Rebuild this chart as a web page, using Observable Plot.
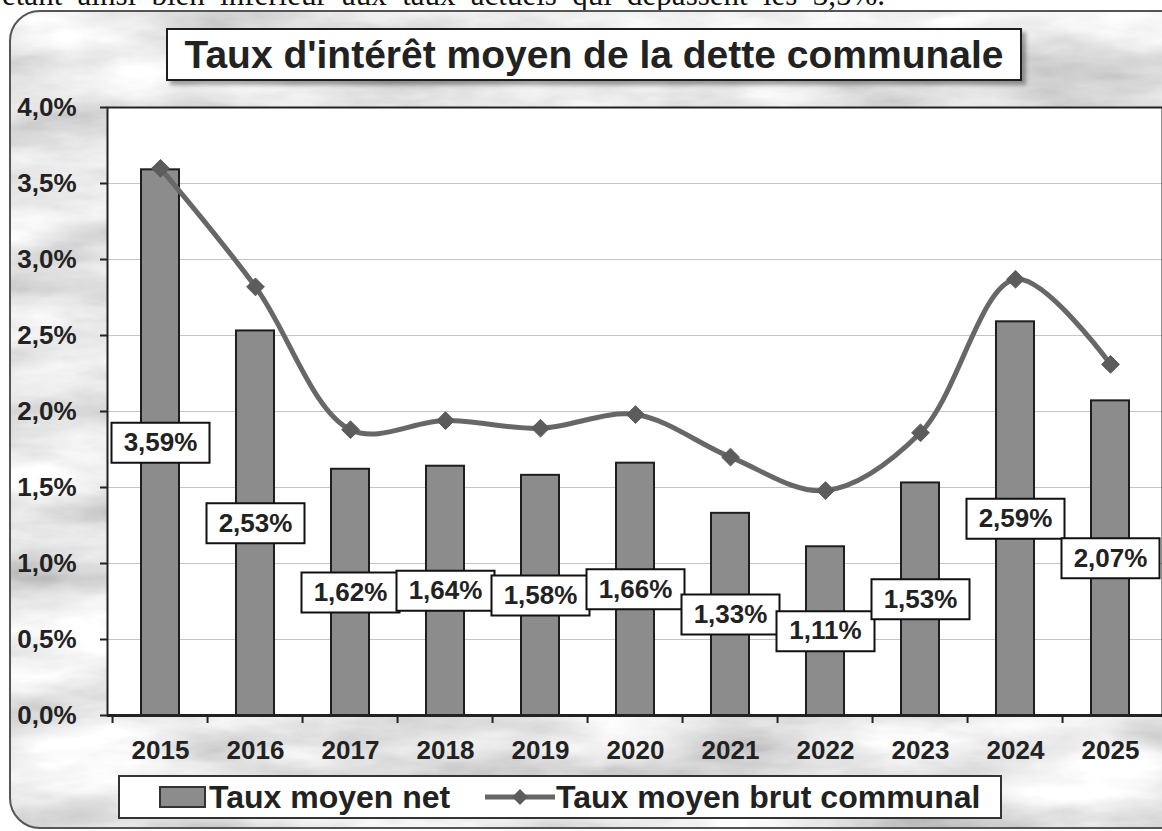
<!DOCTYPE html>
<html>
<head>
<meta charset="utf-8">
<script src="https://cdn.jsdelivr.net/npm/d3@7"></script>
<script src="https://cdn.jsdelivr.net/npm/@observablehq/plot@0.6"></script>
<style>
  html, body { margin: 0; padding: 0; background: #fff; }
  #page { position: relative; width: 1162px; height: 831px; overflow: hidden; font-family: "Liberation Sans", Arial, sans-serif; }
  #topline { position: absolute; left: 2px; width: 883px; top: -21px; font-family: "Liberation Serif", "Times New Roman", serif; font-size: 31px; line-height: 31px; white-space: nowrap; color: #111; text-align: justify; text-align-last: justify; }
  #bg { position: absolute; left: 0; top: 0; }
  #chart { position: absolute; left: 0; top: 0; }
  #title { position: absolute; left: 166px; top: 28px; width: 856px; height: 53px; box-sizing: border-box; border: 2px solid #1e1e1e; background: #fff; font-weight: bold; font-size: 39px; line-height: 49px; text-align: center; color: #222; box-shadow: 4px 4px 4px rgba(0,0,0,0.35); white-space: nowrap; }
  #legend { position: absolute; left: 118px; top: 775px; }
</style>
</head>
<body>
<div id="page">
  <div id="topline">étant ainsi bien inférieur aux taux actuels qui dépassent les 3,5%.</div>
  <svg id="bg" width="1162" height="831">
    <defs>
      <filter id="marble" x="0" y="0" width="1162" height="831" filterUnits="userSpaceOnUse">
        <feTurbulence type="fractalNoise" baseFrequency="0.006 0.02" numOctaves="5" seed="11" result="noise"/>
        <feColorMatrix in="noise" type="matrix" values="0.55 0.5 0 0 0.27  0.55 0.5 0 0 0.27  0.55 0.5 0 0 0.27  0 0 0 0 1" result="gray"/>
        <feComposite in="gray" in2="SourceGraphic" operator="in"/>
      </filter>
    </defs>
    <rect x="10" y="11" width="1180" height="817" rx="30" ry="30" fill="#d0d0d0" filter="url(#marble)"/>
    <rect x="10" y="11" width="1180" height="817" rx="30" ry="30" fill="none" stroke="#555" stroke-width="2"/>
  </svg>
  <div id="chart"></div>
  <div id="title">Taux d'intérêt moyen de la dette communale</div>
  <svg id="legend" width="884" height="44"></svg>
</div>
<script>
// ---- data ----
const years = [2015, 2016, 2017, 2018, 2019, 2020, 2021, 2022, 2023, 2024, 2025];
const netRates = [3.59, 2.53, 1.62, 1.64, 1.58, 1.66, 1.33, 1.11, 1.53, 2.59, 2.07];
const grossRates = [3.60, 2.82, 1.88, 1.94, 1.89, 1.98, 1.70, 1.48, 1.86, 2.87, 2.31];
const yTicks = [0, 0.5, 1, 1.5, 2, 2.5, 3, 3.5, 4];
const seriesNames = ["Taux moyen net", "Taux moyen brut communal"];

const table = years.map((year, i) => ({year, net: netRates[i], gross: grossRates[i]}));

const W = 1162, H = 831;
const mL = 107, mT = 107, mB = 116, mR = 0;
const step = (W - mL - mR) / years.length;

const fmtAxis = d => d.toFixed(1).replace(".", ",") + "%";
const fmtLabel = d => d.toFixed(2).replace(".", ",") + "%";

const labelBox = {
  draw(ctx) {
    ctx.moveTo(-49, -20); ctx.lineTo(49, -20); ctx.lineTo(49, 20); ctx.lineTo(-49, 20); ctx.closePath();
  }
};

const chart = Plot.plot({
  width: W, height: H,
  marginLeft: mL, marginTop: mT, marginBottom: mB, marginRight: mR,
  style: {background: "transparent", fontFamily: "'Liberation Sans', Arial, sans-serif", color: "#222", overflow: "visible"},
  x: {type: "band", domain: years, paddingInner: 0.6, paddingOuter: 0.3, axis: null, label: null},
  y: {domain: [0, 4], axis: null, label: null},
  marks: [
    Plot.frame({fill: "white", stroke: null}),
    Plot.gridY(yTicks, {stroke: "#c4c4c4", strokeOpacity: 1}),
    Plot.barY(table, {x: "year", y: "net", fill: "#8c8c8c", stroke: "#1e1e1e", strokeWidth: 2, ariaLabel: "bars"}),
    Plot.line(table, {x: "year", y: "gross", curve: "catmull-rom", stroke: "#676767", strokeWidth: 5}),
    Plot.dot(table, {x: "year", y: "gross", symbol: "diamond2", r: 8, fill: "#5c5c5c", stroke: "#5c5c5c", strokeWidth: 1}),
    Plot.dot(table, {x: "year", y: d => d.net / 2, symbol: labelBox, r: 1, fill: "white", stroke: "#111", strokeWidth: 2, ariaLabel: "labelboxes"}),
    Plot.text(table, {x: "year", y: d => d.net / 2, text: d => fmtLabel(d.net), fontSize: 26, fontWeight: "bold", fill: "#222"}),
    Plot.frame({stroke: "#222", strokeWidth: 2}),
    Plot.ruleY([0], {stroke: "#222", strokeWidth: 3}),
    Plot.axisY({ticks: yTicks, tickFormat: fmtAxis, tickSize: 7, tickPadding: 24, fontSize: 26, fontWeight: "bold", strokeWidth: 2, label: null}),
    Plot.axisX({tickSize: 8, tickFormat: () => "", dx: -step / 2, strokeWidth: 2, label: null}),
    Plot.axisX({tickSize: 0, tickPadding: 25, fontSize: 26, fontWeight: "bold", tickFormat: d => String(d), label: null})
  ]
});
document.getElementById("chart").appendChild(chart);
chart.querySelectorAll('g[aria-label="bars"], g[aria-label="labelboxes"]').forEach(g => {
  g.style.filter = "drop-shadow(4px 4px 3px rgba(0,0,0,0.4))";
});

// ---- legend ----
const lg = d3.select("#legend");
lg.append("rect").attr("x", 1).attr("y", 1).attr("width", 882).attr("height", 42)
  .attr("fill", "#fff").attr("stroke", "#333").attr("stroke-width", 2);
lg.append("rect").attr("x", 42).attr("y", 12).attr("width", 45).attr("height", 20)
  .attr("fill", "#8c8c8c").attr("stroke", "#333").attr("stroke-width", 2);
lg.append("text").attr("x", 91).attr("y", 33).text(seriesNames[0])
  .attr("font-size", 32).attr("font-weight", "bold").attr("fill", "#222")
  .attr("font-family", "'Liberation Sans', Arial, sans-serif");
lg.append("line").attr("x1", 367).attr("x2", 437).attr("y1", 22).attr("y2", 22)
  .attr("stroke", "#676767").attr("stroke-width", 5);
lg.append("path").attr("d", d3.symbol(d3.symbolDiamond2, 160)()).attr("transform", "translate(402,22)")
  .attr("fill", "#5c5c5c");
lg.append("text").attr("x", 438).attr("y", 33).text(seriesNames[1])
  .attr("font-size", 32).attr("font-weight", "bold").attr("fill", "#222")
  .attr("font-family", "'Liberation Sans', Arial, sans-serif");
</script>
</body>
</html>
